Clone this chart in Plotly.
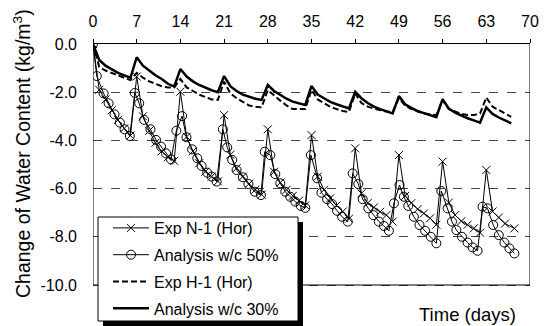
import plotly.graph_objects as go

# ---------------- data ----------------
n1_days = list(range(0, 67)) + [67.5]
n1_vals = [0, -1.9, -2.3, -2.75, -3.15, -3.5, -3.8,
           -1.35, -3.0, -3.6, -4.1, -4.45, -4.7, -4.85,
           -1.98, -3.85, -4.45, -4.95, -5.3, -5.5, -5.7,
           -2.95, -4.6, -5.15, -5.5, -5.8, -6.05, -6.25,
           -3.54, -5.3, -5.75, -6.05, -6.3, -6.5, -6.7,
           -3.78, -5.5, -6.05, -6.4, -6.7, -6.95, -7.25,
           -4.33, -6.2, -6.6, -6.78, -6.96, -7.1, -7.37,
           -4.61, -6.3, -6.6, -6.85, -7.03, -7.23, -7.5,
           -4.88, -6.58, -7.1, -7.35, -7.5, -7.65, -7.83,
           -5.23, -6.95, -7.2, -7.45, -7.65, -7.86]

a50_days = [0, 0.6, 1.7, 2.5, 3.45, 4.3, 5.05, 5.9,
            6.7, 7.4, 8.2, 9.2, 10.1, 10.9, 11.7, 12.5, 13.35,
            14.27, 14.97, 15.87, 16.7, 17.4, 18.3, 19.0, 19.8,
            20.8, 21.5, 22.3, 23.0, 24.0, 24.9, 25.9, 26.9,
            27.5, 28.4, 29.2, 30.0, 30.8, 31.6, 32.4, 33.3, 34.0,
            34.9, 35.9, 36.6, 37.5, 38.3, 39.1, 39.9, 40.8,
            41.6, 42.5, 43.2, 44.1, 44.9, 45.8, 46.6, 47.4, 48.2,
            49.1, 49.8, 50.5, 51.4, 52.3, 53.2, 54.1, 55.0,
            55.8, 56.8, 57.5, 58.2, 59.1, 60.0, 60.8, 61.6, 62.4,
            63.2, 64.1, 65.0, 65.9, 66.7, 67.5]
a50_vals = [0, -1.33, -2.05, -2.46, -2.92, -3.26, -3.54, -3.82,
            -2.03, -2.46, -3.15, -3.54, -3.98, -4.26, -4.54, -4.79, -3.6,
            -2.99, -3.87, -4.37, -4.74, -5.06, -5.34, -5.5, -5.71,
            -3.54, -4.29, -4.81, -5.23, -5.53, -5.81, -6.13, -6.27,
            -4.47, -4.61, -5.4, -5.78, -6.13, -6.34, -6.54, -6.72, -6.8,
            -4.61, -5.57, -6.17, -6.44, -6.64, -6.92, -7.17, -7.37,
            -5.37, -5.81, -6.44, -6.82, -7.1, -7.37, -7.55, -7.75, -6.61,
            -5.85, -6.34, -6.72, -7.17, -7.51, -7.75, -8.0, -8.27,
            -6.1, -6.82, -7.37, -7.72, -8.0, -8.24, -8.44, -8.58, -6.75,
            -6.82, -7.51, -7.93, -8.24, -8.48, -8.69]

h1_days = list(range(0, 68))
h1_vals = [0, -0.95, -1.1, -1.2, -1.3, -1.4, -1.5,
           -1.2, -1.4, -1.55, -1.65, -1.75, -1.8, -1.8,
           -1.45, -1.8, -1.95, -2.1, -2.2, -2.3, -2.32,
           -1.56, -2.05, -2.25, -2.4, -2.55, -2.6, -2.63,
           -1.91, -2.15, -2.35, -2.55, -2.7, -2.7, -2.7,
           -1.91, -2.3, -2.45, -2.6, -2.7, -2.78, -2.82,
           -2.05, -2.45, -2.6, -2.68, -2.75, -2.8, -2.82,
           -2.25, -2.55, -2.7, -2.8, -2.88, -2.92, -2.95,
           -2.32, -2.7, -2.8, -2.9, -2.95, -2.95, -2.88,
           -2.22, -2.6, -2.75, -2.9, -3.02]

a30_days = list(range(0, 68))
a30_vals = [0, -0.66, -0.9, -1.05, -1.2, -1.3, -1.4,
            -0.55, -0.9, -1.1, -1.3, -1.45, -1.65, -1.77,
            -1.04, -1.35, -1.55, -1.7, -1.82, -1.92, -2.0,
            -1.33, -1.75, -1.95, -2.1, -2.2, -2.27, -2.32,
            -1.7, -1.95, -2.12, -2.27, -2.39, -2.47, -2.53,
            -1.74, -2.1, -2.25, -2.4, -2.5, -2.6, -2.67,
            -1.98, -2.25, -2.45, -2.6, -2.7, -2.8, -2.88,
            -2.16, -2.5, -2.65, -2.78, -2.87, -2.95, -3.04,
            -2.29, -2.68, -2.85, -2.98, -3.08, -3.17, -3.26,
            -2.63, -2.9, -3.05, -3.18, -3.29]

x_ticks = [0, 7, 14, 21, 28, 35, 42, 49, 56, 63, 70]
y_ticks = [0, -2, -4, -6, -8, -10]
y_ticktext = ["0.0", "-2.0", "-4.0", "-6.0", "-8.0", "-10.0"]
x_min, x_max = 0, 70
y_min, y_max = -10, 0

names = ["Exp N-1 (Hor)", "Analysis w/c 50%", "Exp H-1 (Hor)", "Analysis w/c 30%"]

FONT = "Arial, Liberation Sans, sans-serif"

fig = go.Figure()
fig.add_trace(go.Scatter(x=n1_days, y=n1_vals, name=names[0], mode="lines+markers",
                         line=dict(color="black", width=1),
                         marker=dict(symbol="x-thin-open", size=8, color="black",
                                     line=dict(width=1, color="black")),
                         legendgroup="a"))
fig.add_trace(go.Scatter(x=a50_days, y=a50_vals, name=names[1], mode="lines+markers",
                         line=dict(color="black", width=1),
                         marker=dict(symbol="circle-open", size=9, color="black",
                                     line=dict(width=1, color="black")),
                         legendgroup="b"))
fig.add_trace(go.Scatter(x=h1_days, y=h1_vals, name=names[2], mode="lines",
                         line=dict(color="black", width=2, dash="6px,3px"),
                         legendgroup="c"))
fig.add_trace(go.Scatter(x=a30_days, y=a30_vals, name=names[3], mode="lines",
                         line=dict(color="black", width=2.5),
                         legendgroup="d"))

# figure geometry (pixels); the plot area runs to the bottom edge so that the
# legend, which overhangs the frame, stays inside the plotting paper
W, H = 548, 326
L, R, T = 93, 18, 44
FRAME_BOTTOM = 285
pw, ph = W - L - R, H - T
units_per_px = (y_max - y_min) / (FRAME_BOTTOM - T)
y_lo = y_min - (H - FRAME_BOTTOM) * units_per_px


def px2paper(xp, yp):
    return (xp - L) / pw, (H - yp) / ph


shapes = []
# frame (left, right, bottom) in data coordinates
for (x0, y0, x1, y1) in [(x_min, y_min, x_min, y_max), (x_max, y_min, x_max, y_max),
                         (x_min, y_min, x_max, y_min)]:
    shapes.append(dict(type="line", xref="x", yref="y", x0=x0, y0=y0, x1=x1, y1=y1,
                       line=dict(color="black", width=1), layer="above"))
# legend shadow and box
sx0, sy0 = px2paper(103, 222)
sx1, sy1 = px2paper(303, 326)
shapes.append(dict(type="rect", xref="paper", yref="paper", x0=sx0, x1=sx1, y0=sy1, y1=sy0,
                   fillcolor="black", line=dict(width=0), layer="above"))
bx0, by0 = px2paper(98, 217)
bx1, by1 = px2paper(298, 321)
shapes.append(dict(type="rect", xref="paper", yref="paper", x0=bx0, x1=bx1, y0=by1, y1=by0,
                   fillcolor="white", line=dict(color="black", width=1), layer="above"))

lx = px2paper(108, 0)[0]

fig.update_layout(
    template="none",
    width=W, height=H,
    margin=dict(l=L, r=R, t=T, b=0, autoexpand=False),
    paper_bgcolor="white", plot_bgcolor="white",
    font=dict(family=FONT, size=16, color="black"),
    showlegend=True,
    legend=dict(x=lx, y=0, xanchor="left", yanchor="bottom",
                bgcolor="rgba(0,0,0,0)", borderwidth=0,
                font=dict(size=16), tracegroupgap=3, itemwidth=36,
                traceorder="grouped"),
    xaxis=dict(range=[x_min, x_max], side="top", tickvals=x_ticks, ticks="outside", ticklen=4,
               tickcolor="black", showline=True, linecolor="black", linewidth=1, mirror=False,
               showgrid=False, zeroline=False, tickfont=dict(size=16), ticklabelstandoff=6,
               automargin=False),
    yaxis=dict(range=[y_lo, y_max], tickvals=y_ticks, ticktext=y_ticktext, ticks="",
               showline=False, showgrid=True, gridcolor="#444444", griddash="dash", gridwidth=1,
               zeroline=False, tickfont=dict(size=16), ticklabelstandoff=15,
               automargin=False),
    shapes=shapes,
    annotations=[
        dict(text="Change of Water Content (kg/m<sup>3</sup>)", xref="paper", yref="paper",
             x=px2paper(22, 0)[0], y=px2paper(0, 154)[1], xanchor="center", yanchor="middle",
             textangle=-90, showarrow=False, font=dict(size=19.5)),
        dict(text="Time (days)", xref="paper", yref="paper",
             x=px2paper(518, 0)[0], y=px2paper(0, 314)[1], xanchor="right", yanchor="middle",
             showarrow=False, font=dict(size=18.5)),
    ],
)

fig.write_html("out.html", config={"displayModeBar": False},
               post_script="document.body.style.margin='0px';")
